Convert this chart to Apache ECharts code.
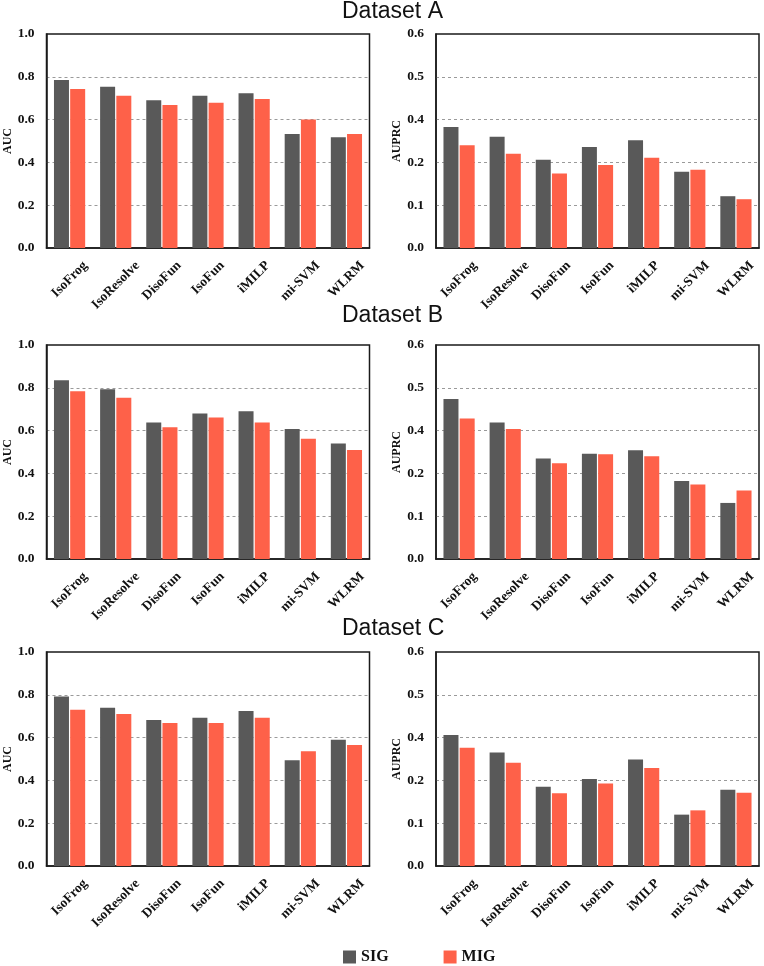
<!DOCTYPE html>
<html><head><meta charset="utf-8">
<script src="https://cdn.jsdelivr.net/npm/echarts@6/dist/echarts.min.js"></script>
<style>html,body{margin:0;padding:0;background:#fff}#c{width:764px;height:966px}</style>
</head><body><div id="c"></div>
<script>
// ---------- data ----------
const categories = ['IsoFrog', 'IsoResolve', 'DisoFun', 'IsoFun', 'iMILP', 'mi-SVM', 'WLRM'];
const datasetTitles = ['Dataset A', 'Dataset B', 'Dataset C'];
const seriesNames = ['SIG', 'MIG'];
const aucTickLabels = ['0.0', '0.2', '0.4', '0.6', '0.8', '1.0'];
const auprcTickLabels = ['0.0', '0.1', '0.2', '0.4', '0.5', '0.6'];

const aAucSig = [0.785, 0.754, 0.690, 0.712, 0.723, 0.533, 0.517];
const aAucMig = [0.743, 0.712, 0.668, 0.679, 0.696, 0.600, 0.533];
const aPrcSig = [0.283, 0.260, 0.206, 0.236, 0.252, 0.178, 0.121];
const aPrcMig = [0.240, 0.220, 0.174, 0.194, 0.211, 0.183, 0.114];

const bAucSig = [0.835, 0.793, 0.638, 0.680, 0.691, 0.607, 0.540];
const bAucMig = [0.784, 0.753, 0.616, 0.661, 0.638, 0.562, 0.509];
const bPrcSig = [0.374, 0.319, 0.235, 0.246, 0.254, 0.182, 0.131];
const bPrcMig = [0.328, 0.304, 0.224, 0.245, 0.240, 0.174, 0.160];

const cAucSig = [0.792, 0.739, 0.682, 0.693, 0.724, 0.494, 0.590];
const cAucMig = [0.730, 0.710, 0.668, 0.668, 0.693, 0.536, 0.565];
const cPrcSig = [0.306, 0.265, 0.185, 0.203, 0.249, 0.120, 0.178];
const cPrcMig = [0.276, 0.241, 0.170, 0.193, 0.229, 0.130, 0.171];

// ---------- layout / style ----------
const SERIF = '"Liberation Serif", "Times New Roman", serif';
const SANS = '"Liberation Sans", Arial, sans-serif';
const colors = ['#595959', '#fe6149'];
const panels = [
  {metric: 'AUC', sig: aAucSig, mig: aAucMig, ticks: aucTickLabels, max: 1, step: 0.2},
  {metric: 'AUPRC', sig: aPrcSig, mig: aPrcMig, ticks: auprcTickLabels, max: 0.5, step: 0.1},
  {metric: 'AUC', sig: bAucSig, mig: bAucMig, ticks: aucTickLabels, max: 1, step: 0.2},
  {metric: 'AUPRC', sig: bPrcSig, mig: bPrcMig, ticks: auprcTickLabels, max: 0.5, step: 0.1},
  {metric: 'AUC', sig: cAucSig, mig: cAucMig, ticks: aucTickLabels, max: 1, step: 0.2},
  {metric: 'AUPRC', sig: cPrcSig, mig: cPrcMig, ticks: auprcTickLabels, max: 0.5, step: 0.1}
];
const rowTops = [34, 345, 652];
const rowHeight = 214;
const colLefts = [46.5, 436];
const colWidth = 323;
const titleTops = [0, 304, 617];

const X_FONT_SIZE = 13.5;
const X_FONT = 'bold ' + X_FONT_SIZE + 'px "Liberation Serif", "Times New Roman", serif';
const X_LABEL_GAP = 12;
const meas = document.createElement('canvas').getContext('2d');
meas.font = X_FONT;

const grids = [], xAxes = [], yAxes = [], series = [];
panels.forEach((p, i) => {
  const r = Math.floor(i / 2), col = i % 2;
  grids.push({
    left: colLefts[col], top: rowTops[r], width: colWidth, height: rowHeight,
    show: true, borderColor: '#1a1a1a', borderWidth: 1.5, containLabel: false
  });
  xAxes.push({
    type: 'category', gridIndex: i, data: categories,
    axisLine: {show: true, lineStyle: {color: '#1a1a1a', width: 1.5}},
    axisTick: {show: false},
    axisLabel: {show: false},
    splitLine: {show: false}
  });
  yAxes.push({
    type: 'value', gridIndex: i, min: 0, max: p.max, interval: p.step,
    name: p.metric, nameLocation: 'middle', nameGap: 29,
    nameTextStyle: {fontFamily: SERIF, fontWeight: 'bold', fontSize: 12, color: '#111'},
    axisLine: {show: true, lineStyle: {color: '#1a1a1a', width: 1.5}},
    axisTick: {show: false},
    axisLabel: {
      margin: 12, fontFamily: SERIF, fontWeight: 'bold', fontSize: 13.5, color: '#111',
      formatter: v => p.ticks[Math.round(v / p.step)]
    },
    splitLine: {
      show: true, showMinLine: false, showMaxLine: false,
      lineStyle: {type: [3, 3], color: '#9a9a9a', width: 1}
    }
  });
  [p.sig, p.mig].forEach((vals, k) => {
    series.push({
      type: 'bar', name: seriesNames[k], xAxisIndex: i, yAxisIndex: i,
      data: vals, barWidth: 15, barGap: '8%',
      itemStyle: {color: colors[k]},
      emphasis: {disabled: true}
    });
  });
});

const chart = echarts.init(document.getElementById('c'), null, {renderer: 'canvas'});
chart.setOption({
  animation: false,
  backgroundColor: '#fff',
  title: datasetTitles.map((t, r) => ({
    text: t, left: 342, top: titleTops[r], padding: 0,
    textStyle: {fontFamily: SANS, fontWeight: 'normal', fontSize: 23, color: '#111'}
  })),
  legend: {
    data: seriesNames, left: 343, top: 949, icon: 'rect',
    itemWidth: 13, itemHeight: 13, itemGap: 55, padding: 0,
    textStyle: {fontFamily: SERIF, fontWeight: 'bold', fontSize: 16, color: '#111'}
  },
  grid: grids, xAxis: xAxes, yAxis: yAxes, series: series
});

// Category tick labels, rotated 45 deg (reading up to the right, zrender
// positive rotation = anticlockwise) and centred under each tick; positions
// come from the category axes via convertToPixel.
const labelGraphics = [];
panels.forEach((p, i) => {
  categories.forEach((c, k) => {
    const pt = chart.convertToPixel({xAxisIndex: i, yAxisIndex: i}, [k, 0]);
    const w = meas.measureText(c).width;
    labelGraphics.push({
      type: 'text', silent: true,
      x: pt[0], y: pt[1] + X_LABEL_GAP + 0.3536 * (w + 10),
      rotation: Math.PI / 4,
      style: {text: c, font: X_FONT, fill: '#111', align: 'center', verticalAlign: 'middle'}
    });
  });
});
chart.setOption({graphic: labelGraphics});
</script></body></html>
